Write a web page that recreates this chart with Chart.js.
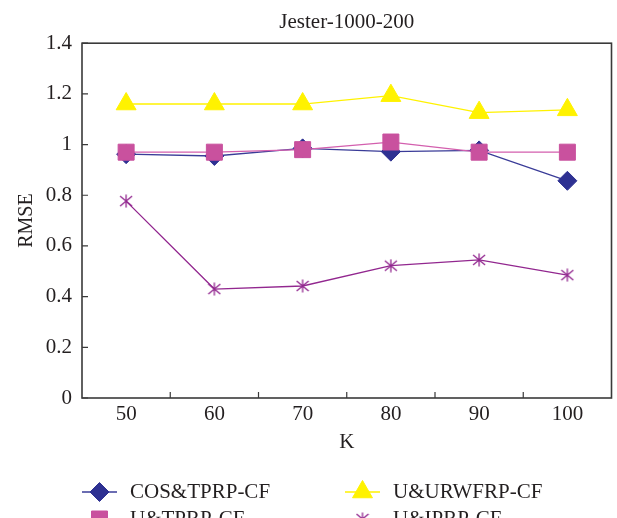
<!DOCTYPE html>
<html>
<head>
<meta charset="utf-8">
<script src="https://cdn.jsdelivr.net/npm/chart.js@4.4.1/dist/chart.umd.min.js"></script>
<style>
html, body { margin: 0; padding: 0; background: #fff; overflow: hidden; }
#wrap { width: 617px; height: 540px; overflow: hidden; }
</style>
</head>
<body>
<div id="wrap"><canvas id="jesterChart" width="624" height="540"></canvas></div>
<script>
// K values on the x axis
const kValues = ['50', '60', '70', '80', '90', '100'];

// RMSE per method
const cosTprpCf = [0.962, 0.955, 0.985, 0.972, 0.977, 0.857];
const uUrwfrpCf = [1.16, 1.16, 1.16, 1.193, 1.126, 1.137];
const uTprpCf = [0.97, 0.97, 0.98, 1.01, 0.97, 0.97];
const uIprpCf = [0.777, 0.43, 0.442, 0.522, 0.545, 0.485];

const yTickLabels = ['0', '0.2', '0.4', '0.6', '0.8', '1', '1.2', '1.4'];

const textColor = '#231f20';
const serif = "'Liberation Serif', 'DejaVu Serif', serif";

// excel-like asterisk marker (X with a vertical bar)
function asteriskMarker(color, size) {
  const c = document.createElement('canvas');
  c.width = size;
  c.height = size;
  const g = c.getContext('2d');
  g.strokeStyle = color;
  g.lineWidth = 1.3;
  const h = size / 2;
  g.beginPath();
  g.moveTo(h, 0.5); g.lineTo(h, size - 0.5);
  g.moveTo(1, 2); g.lineTo(size - 1, size - 2);
  g.moveTo(size - 1, 2); g.lineTo(1, size - 2);
  g.stroke();
  return c;
}

// box frame + inward ticks
const frameTicks = {
  id: 'frameTicks',
  beforeDatasetsDraw(chart) {
    const { ctx, chartArea: a, scales: { x, y } } = chart;
    ctx.save();
    ctx.strokeStyle = '#3a3a3a';
    ctx.lineWidth = 1.6;
    ctx.strokeRect(a.left, a.top, a.right - a.left, a.bottom - a.top);
    ctx.lineWidth = 1.2;
    ctx.beginPath();
    y.ticks.forEach(t => {
      const py = y.getPixelForValue(t.value);
      ctx.moveTo(a.left, py);
      ctx.lineTo(a.left + 6, py);
    });
    for (let i = 1; i < kValues.length; i++) {
      const px = (x.getPixelForValue(i - 1) + x.getPixelForValue(i)) / 2;
      ctx.moveTo(px, a.bottom);
      ctx.lineTo(px, a.bottom - 6);
    }
    ctx.stroke();
    ctx.restore();
  }
};

// two-column legend under the axis
const gridLegend = {
  id: 'gridLegend',
  afterDraw(chart) {
    const { ctx, chartArea } = chart;
    const rowY = chartArea.bottom + 94;
    const rowGap = 27;
    const colX = [chartArea.left, chartArea.left + 263];
    chart.data.datasets.forEach((ds, i) => {
      const x = colX[i % 2];
      const y = rowY + Math.floor(i / 2) * rowGap;
      ctx.save();
      ctx.strokeStyle = ds.borderColor;
      ctx.lineWidth = ds.borderWidth;
      ctx.beginPath();
      ctx.moveTo(x, y);
      ctx.lineTo(x + 35, y);
      ctx.stroke();
      ctx.fillStyle = ds.pointBackgroundColor;
      ctx.strokeStyle = ds.pointBorderColor;
      ctx.lineWidth = ds.pointBorderWidth;
      Chart.helpers.drawPoint(ctx, {
        pointStyle: ds.pointStyle,
        radius: ds.pointRadius,
        borderWidth: ds.pointBorderWidth,
        rotation: 0
      }, x + 17.5, y);
      ctx.fillStyle = textColor;
      ctx.font = '21px ' + serif;
      ctx.textBaseline = 'middle';
      ctx.textAlign = 'left';
      ctx.fillText(ds.label, x + 48, y);
      ctx.restore();
    });
  }
};

const ctx = document.getElementById('jesterChart').getContext('2d');

const jesterChart = new Chart(ctx, {
  type: 'line',
  data: {
    labels: kValues,
    datasets: [
      {
        label: 'COS&TPRP-CF',
        data: cosTprpCf,
        borderColor: '#3a3c98',
        borderWidth: 1.3,
        pointStyle: 'rectRot',
        pointRadius: 9.5,
        pointBackgroundColor: '#2e3192',
        pointBorderColor: '#2e3192',
        pointBorderWidth: 1,
        order: 2
      },
      {
        label: 'U&URWFRP-CF',
        data: uUrwfrpCf,
        borderColor: '#fff200',
        borderWidth: 1.3,
        pointStyle: 'triangle',
        pointRadius: 11.5,
        pointBackgroundColor: '#fff200',
        pointBorderColor: '#fff200',
        pointBorderWidth: 1,
        order: 1
      },
      {
        label: 'U&TPRP-CF',
        data: uTprpCf,
        borderColor: '#d35fae',
        borderWidth: 1.3,
        pointStyle: 'rect',
        pointRadius: 11.3,
        pointBackgroundColor: '#c9519e',
        pointBorderColor: '#c9519e',
        pointBorderWidth: 1,
        order: 1
      },
      {
        label: 'U&IPRP-CF',
        data: uIprpCf,
        borderColor: '#92278f',
        borderWidth: 1.3,
        pointStyle: asteriskMarker('#92278f', 14),
        pointRadius: 7,
        pointBackgroundColor: '#92278f',
        pointBorderColor: '#92278f',
        pointBorderWidth: 1,
        order: 1
      }
    ]
  },
  options: {
    responsive: false,
    maintainAspectRatio: false,
    animation: false,
    layout: { padding: { left: 0, right: 0, top: 0, bottom: 82 } },
    elements: { line: { tension: 0 } },
    plugins: {
      legend: { display: false },
      tooltip: { enabled: false },
      title: {
        display: true,
        text: 'Jester-1000-200',
        fullSize: false,
        color: textColor,
        font: { family: serif, size: 21, weight: 'normal' },
        padding: { top: 10, bottom: 8 }
      }
    },
    scales: {
      x: {
        type: 'category',
        offset: true,
        grid: { display: false, drawTicks: false },
        border: { display: false },
        ticks: { color: textColor, font: { family: serif, size: 21 }, padding: 4, maxRotation: 0 },
        title: {
          display: true,
          text: 'K',
          color: textColor,
          font: { family: serif, size: 21 },
          padding: { top: 0, bottom: 3 }
        },
        afterFit(scale) { scale.height = 60; }
      },
      y: {
        min: 0,
        max: 1.4,
        grid: { display: false, drawTicks: false },
        border: { display: false },
        ticks: {
          stepSize: 0.2,
          color: textColor,
          font: { family: serif, size: 21 },
          padding: 10,
          callback: (v, i) => yTickLabels[i]
        },
        title: {
          display: true,
          text: 'RMSE',
          color: textColor,
          font: { family: serif, size: 20 },
          padding: { top: 15, bottom: 0 }
        },
        afterFit(scale) { scale.width = 82; }
      }
    }
  },
  plugins: [frameTicks, gridLegend]
});
</script>
</body>
</html>
